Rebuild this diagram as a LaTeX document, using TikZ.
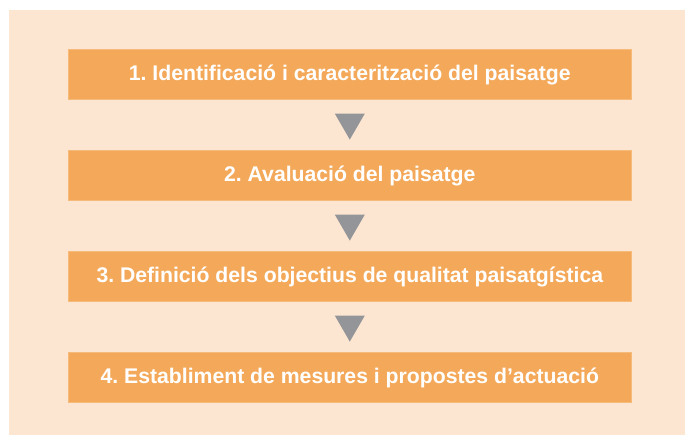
\documentclass[tikz,border=0pt]{standalone}
\usepackage{fontspec}
\setmainfont{Liberation Sans}
\frenchspacing
\definecolor{bgpeach}{RGB}{253,230,209}
\definecolor{boxorange}{RGB}{244,169,90}
\definecolor{arrowgray}{RGB}{147,149,152}
\begin{document}
\begin{tikzpicture}[x=1pt,y=-1pt,
  stepbox/.style={fill=boxorange,draw=boxorange!80!white,line width=0.6pt,minimum width=563pt,minimum height=50pt,inner sep=0pt,anchor=north west},
  steptext/.style={text=white,font=\fontsize{21.2}{24}\selectfont\bfseries\frenchspacing,anchor=base},
  marker/.style={fill=arrowgray}]
\useasboundingbox (0,0) rectangle (685,435);
\fill[white] (0,0) rectangle (685,435);
\fill[bgpeach] (9,10) rectangle (685,435);
\node[stepbox] (b1) at (68,49) {};
\node[stepbox] (b2) at (68,150) {};
\node[stepbox] (b3) at (68,251) {};
\node[stepbox] (b4) at (68,352) {};
\node[steptext] (t1) at ([yshift=-6.5pt]b1.center) {1. Identificació i caracterització del paisatge};
\node[steptext] (t2) at ([yshift=-6.5pt]b2.center) {2. Avaluació del paisatge};
\node[steptext] (t3) at ([yshift=-6.5pt]b3.center) {3. Definició dels objectius de qualitat paisatgística};
\node[steptext] (t4) at ([yshift=-6.5pt]b4.center) {4. Establiment de mesures i propostes d’actuació};
\foreach \a in {b1,b2,b3}{
  \fill[marker] ([shift={(-15,14)}]\a.south) -- ++(30,0) -- ++(-15,26) -- cycle;
}
\end{tikzpicture}
\end{document}
